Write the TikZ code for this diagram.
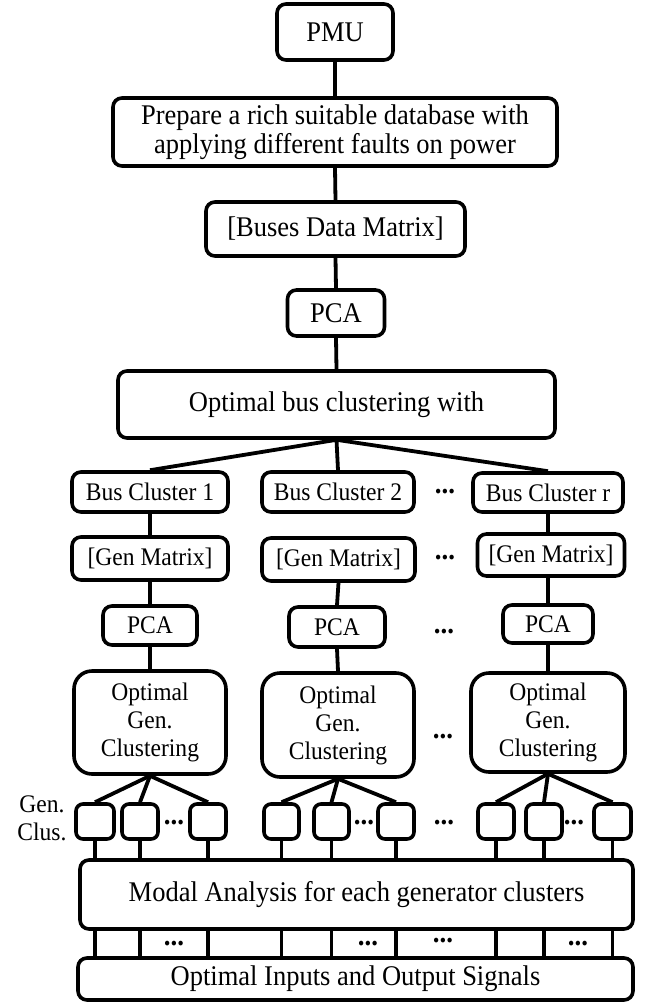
\documentclass[tikz,border=0pt]{standalone}
\usepackage{fontspec}
\setmainfont{Liberation Serif}[FakeStretch=0.93]
\newcommand\bigfnt{\fontsize{28.5}{29.5}\selectfont}
\newcommand\smallfnt{\fontsize{25.3}{28}\selectfont}
\tikzset{
  box/.style={draw, line width=3.6pt, rounded corners=9pt, inner sep=0pt, align=center, font=\bigfnt},
  sbox/.style={box, font=\smallfnt},
  gbox/.style={box, font=\smallfnt, rounded corners=18pt},
  cbox/.style={draw, line width=3.6pt, rounded corners=7pt, inner sep=0pt, minimum height=35pt},
  link/.style={line width=3.8pt},
  dotsn/.style={font=\fontsize{29}{30}\selectfont\bfseries, inner sep=0pt},
  lbl/.style={font=\smallfnt, align=center, inner sep=0pt}
}
\begin{document}
\begin{tikzpicture}[x=1pt,y=-1pt]
\useasboundingbox (0,0) rectangle (652,1005);
% top chain
\node[box, minimum width=116pt, minimum height=56pt] (pmu) at (335,32) {PMU};
\node[box, minimum width=444pt, minimum height=68pt] (prep) at (335,132) {Prepare a rich suitable database with\\applying different faults on power};
\node[box, minimum width=259pt, minimum height=54pt] (buses) at (335.5,229) {[Buses Data Matrix]};
\node[box, minimum width=97pt, minimum height=46pt] (pca0) at (336,313) {PCA};
\node[box, minimum width=437pt, minimum height=67pt] (obc) at (336.5,404.5) {Optimal bus clustering with};
% bus clusters
\node[sbox, minimum width=156pt, minimum height=40pt] (bc1) at (150,492) {Bus Cluster 1};
\node[sbox, minimum width=152pt, minimum height=40pt] (bc2) at (338,492) {Bus Cluster 2};
\node[sbox, minimum width=150pt, minimum height=39pt] (bcr) at (548,492.5) {Bus Cluster r};
% gen matrices
\node[sbox, minimum width=156pt, minimum height=43pt] (gm1) at (150,558.5) {[Gen Matrix]};
\node[sbox, minimum width=153pt, minimum height=43pt] (gm2) at (338.5,559.5) {[Gen Matrix]};
\node[sbox, minimum width=147pt, minimum height=42pt] (gmr) at (551,555) {[Gen Matrix]};
% PCA
\node[sbox, minimum width=94pt, minimum height=39pt] (pca1) at (150,625.5) {PCA};
\node[sbox, minimum width=96pt, minimum height=40pt] (pca2) at (337,627) {PCA};
\node[sbox, minimum width=90pt, minimum height=38pt] (pcar) at (548,624) {PCA};
% optimal gen clustering
\node[gbox, minimum width=152pt, minimum height=103pt] (ogc1) at (150,722.5) {Optimal\\Gen.\\Clustering};
\node[gbox, minimum width=152pt, minimum height=104pt] (ogc2) at (338,725) {Optimal\\Gen.\\Clustering};
\node[gbox, minimum width=154pt, minimum height=99pt] (ogcr) at (548,722.5) {Optimal\\Gen.\\Clustering};
% gen clusters
\node[cbox, minimum width=38pt] (g1a) at (95,821.5) {};
\node[cbox, minimum width=36pt] (g1b) at (140,821.5) {};
\node[cbox, minimum width=36pt] (g1c) at (208,821.5) {};
\node[cbox, minimum width=35pt] (g2a) at (281.5,821.5) {};
\node[cbox, minimum width=35pt] (g2b) at (331.5,821.5) {};
\node[cbox, minimum width=36pt] (g2c) at (396,821.5) {};
\node[cbox, minimum width=36pt] (gra) at (496,821.5) {};
\node[cbox, minimum width=36pt] (grb) at (544,821.5) {};
\node[cbox, minimum width=37pt] (grc) at (612.5,821.5) {};
\node[lbl] (gclus) at (42,818) {Gen.\\Clus.};
% bottom boxes
\node[box, minimum width=553pt, minimum height=69pt] (modal) at (356.5,894.5) {Modal Analysis for each generator clusters};
\node[box, minimum width=555pt, minimum height=42pt] (inputs) at (355.5,979) {Optimal Inputs and Output Signals};
% dots
\node[dotsn] (d1) at (445,492) {...};
\node[dotsn] (d2) at (445,558) {...};
\node[dotsn] (d3) at (444,632) {...};
\node[dotsn] (d4) at (443,737) {...};
\node[dotsn] (d5) at (174,823) {...};
\node[dotsn] (d6) at (364,823) {...};
\node[dotsn] (d7) at (444,823) {...};
\node[dotsn] (d8) at (574,823) {...};
\node[dotsn] (d9) at (174,944) {...};
\node[dotsn] (d10) at (368,944) {...};
\node[dotsn] (d11) at (443,941) {...};
\node[dotsn] (d12) at (578,944) {...};
% connectors
\draw[link] (pmu.south) -- (prep.north);
\draw[link] (prep.south) -- (buses.north);
\draw[link] (buses.south) -- (pca0.north);
\draw[link] (pca0.south) -- (obc.north);
\draw[link] (obc.south) -- (bc1.north);
\draw[link] (obc.south) -- (bc2.north);
\draw[link] (obc.south) -- (bcr.north);
\draw[link] (bc1.south) -- (gm1.north);
\draw[link] (bcr.south) -- (bcr.south |- gmr.north);
\draw[link] (gm1.south) -- (pca1.north);
\draw[link] (gm2.south) -- (pca2.north);
\draw[link] (gmr.south -| pcar.north) -- (pcar.north);
\draw[link] (pca1.south) -- (ogc1.north);
\draw[link] (pca2.south) -- (ogc2.north);
\draw[link] (pcar.south) -- (ogcr.north);
\foreach \o/\a/\b/\c in {ogc1/g1a/g1b/g1c, ogc2/g2a/g2b/g2c, ogcr/gra/grb/grc}{
  \draw[link] (\o.south) -- (\a.north);
  \draw[link] (\o.south) -- (\b.north);
  \draw[link] (\o.south) -- (\c.north);
}
\foreach \g in {g1a,g1b,g1c,g2a,g2b,g2c,gra,grb,grc}{
  \draw[link] (\g.south) -- (\g.south |- modal.north);
  \draw[link] (\g.south |- modal.south) -- (\g.south |- inputs.north);
}
\end{tikzpicture}
\end{document}
